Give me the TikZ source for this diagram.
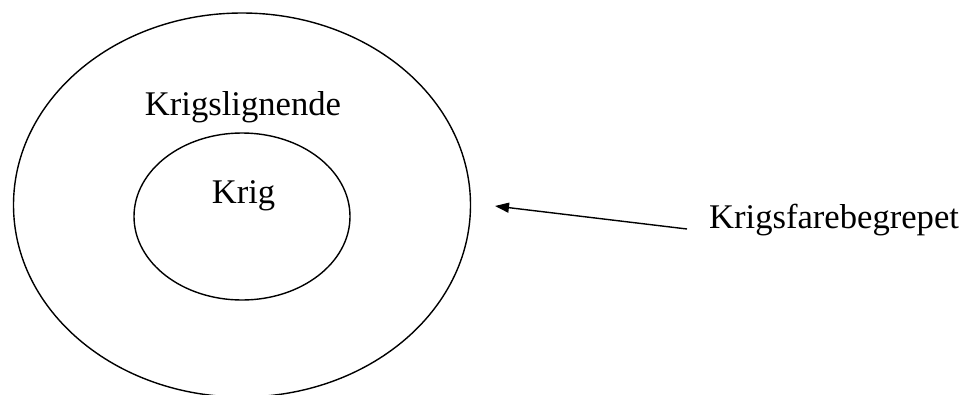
\documentclass[tikz,border=0pt]{standalone}
\usepackage{fontspec}
\setmainfont{Liberation Serif}
\usetikzlibrary{arrows.meta,shapes.geometric}
\begin{document}
\begin{tikzpicture}[x=1pt,y=-1pt,
  ring/.style={draw,ellipse,line width=1.4pt,inner sep=0pt},
  lbl/.style={font=\fontsize{34.6}{40}\selectfont,inner sep=0pt,anchor=base},
  pointer/.style={line width=1.4pt,-{Triangle[length=14pt,width=10pt]}}]
\useasboundingbox (0,0) rectangle (964,394);
\clip (0,0) rectangle (964,394);
\node[ring,minimum width=457pt,minimum height=384pt] (outer) at (242,205) {};
\node[ring,minimum width=216pt,minimum height=167pt] (inner) at (242,216.5) {};
\node[lbl] (krl) at (243,115) {Krigslignende};
\node[lbl] (krig) at (243.5,203) {Krig};
\node[lbl,anchor=base west] (kfb) at (709,228) {Krigsfarebegrepet};
\coordinate (tail) at (687,229);
\coordinate (tip) at (495,206);
\draw[pointer] (tail) -- (tip);
\end{tikzpicture}
\end{document}
